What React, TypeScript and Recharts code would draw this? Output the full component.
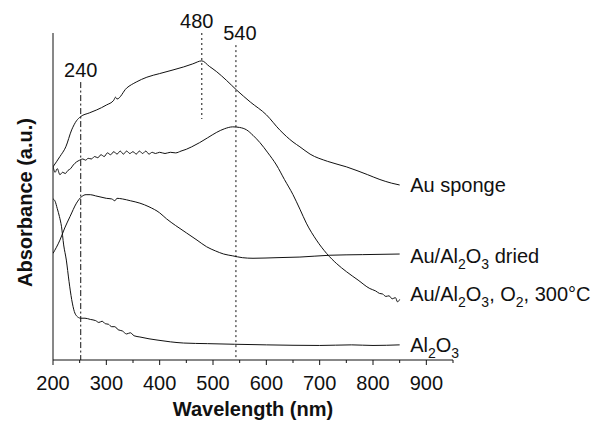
import { LineChart, Line, XAxis, YAxis, ReferenceLine, Label } from 'recharts';

// wavelength ticks (nm) — labels every 100, minor every 50
const xTicks = [200, 250, 300, 350, 400, 450, 500, 550, 600, 650, 700, 750, 800, 850, 900, 950];
const xLabelled = [200, 300, 400, 500, 600, 700, 800, 900];
const yTicks = [0, 1, 2, 3, 4, 5];

// Au sponge
const auSponge = [
  [200, 2.79], [213, 2.96], [224, 3.12], [235, 3.4], [244, 3.55], [252, 3.62], [268, 3.68],
  [282, 3.73], [300, 3.81], [314, 3.89], [317, 3.94], [320, 3.91], [338, 4.09], [356, 4.19],
  [376, 4.27], [400, 4.33], [425, 4.39], [445, 4.44], [462, 4.49], [479, 4.54], [493, 4.45],
  [507, 4.36], [525, 4.22], [544, 4.06], [570, 3.86], [600, 3.65], [625, 3.4], [650, 3.2],
  [663, 3.12], [682, 3.0], [715, 2.88], [750, 2.79], [790, 2.66], [813, 2.58], [835, 2.52], [850, 2.49],
];

// Au/Al2O3, O2, 300°C
const auCalcined = [
  [200, 2.8], [204, 2.7], [208, 2.76], [213, 2.66], [218, 2.7], [223, 2.68], [228, 2.73],
  [233, 2.76], [238, 2.82], [244, 2.87], [250, 2.9], [256, 2.92], [261, 2.9], [266, 2.93],
  [272, 2.92], [278, 2.96], [284, 2.94], [290, 2.99], [296, 2.96], [302, 3.02], [308, 2.99],
  [314, 3.04], [320, 3.0], [326, 3.05], [332, 3.0], [338, 3.05], [344, 3.01], [350, 3.04],
  [356, 3.0], [362, 3.05], [368, 3.01], [374, 3.05], [380, 3.0], [386, 3.03], [392, 3.01],
  [400, 3.03], [410, 3.01], [420, 3.03], [430, 3.02], [440, 3.05], [450, 3.08], [460, 3.12],
  [475, 3.19], [490, 3.27], [507, 3.36], [522, 3.42], [537, 3.45], [550, 3.44], [563, 3.4],
  [575, 3.31], [588, 3.19], [603, 3.02], [619, 2.82], [634, 2.58], [650, 2.33], [663, 2.09],
  [675, 1.86], [694, 1.58], [713, 1.36], [732, 1.19], [750, 1.06], [772, 0.92], [794, 0.78],
  [805, 0.74], [812, 0.7], [818, 0.69], [824, 0.65], [830, 0.66], [836, 0.61], [842, 0.63],
  [846, 0.56], [850, 0.6],
];

// Au/Al2O3 dried
const auDried = [
  [200, 1.36], [213, 1.58], [222, 1.78], [232, 1.97], [244, 2.19], [254, 2.3], [262, 2.33],
  [270, 2.33], [280, 2.31], [290, 2.29], [300, 2.27], [310, 2.26], [316, 2.23], [320, 2.27],
  [330, 2.26], [345, 2.23], [363, 2.19], [380, 2.13], [400, 2.03], [413, 1.93], [430, 1.82],
  [450, 1.7], [470, 1.58], [488, 1.47], [505, 1.4], [520, 1.35], [537, 1.32], [555, 1.29],
  [575, 1.28], [620, 1.29], [663, 1.3], [719, 1.33], [780, 1.34], [850, 1.35],
];

// Al2O3
const alumina = [
  [200, 2.26], [204, 2.22], [208, 2.1], [212, 1.97], [216, 1.8], [220, 1.5], [225, 1.25],
  [230, 0.9], [235, 0.6], [240, 0.4], [244, 0.33], [252, 0.29], [260, 0.29], [270, 0.27],
  [280, 0.25], [286, 0.22], [292, 0.24], [298, 0.2], [304, 0.19], [310, 0.15], [316, 0.15],
  [322, 0.1], [330, 0.08], [338, 0.03], [345, 0.05], [352, 0.0], [363, -0.02], [380, -0.05],
  [395, -0.07], [420, -0.1], [445, -0.12], [490, -0.13], [540, -0.14], [600, -0.15],
  [700, -0.16], [760, -0.15], [800, -0.16], [850, -0.15],
];

// series names, split into normal / subscript pieces
const names: [string, boolean][][] = [
  [['Au sponge', false]],
  [['Au/Al', false], ['2', true], ['O', false], ['3', true], [' dried', false]],
  [['Au/Al', false], ['2', true], ['O', false], ['3', true], [', O', false], ['2', true], [', 300°C', false]],
  [['Al', false], ['2', true], ['O', false], ['3', true]],
];
const seriesData = [auSponge, auDried, auCalcined, alumina];

const toPoints = (arr: number[][]) => arr.map(([x, y]) => ({ x, y }));

const INK = '#111';
const FONT = '"Liberation Sans", Arial, sans-serif';
const SUB_SHIFT = 6;
const labelDy = [7, 9, 2, 7];

const renderName = (parts: [string, boolean][]) => {
  let level = 0;
  return parts.map(([t, sub], k) => {
    const target = sub ? SUB_SHIFT : 0;
    const dy = target - level;
    level = target;
    return (
      <tspan key={k} dy={dy} fontSize={sub ? 14 : 20}>
        {t}
      </tspan>
    );
  });
};

const renderXTick = (props: any) => {
  const { x, y, payload } = props;
  const v = Number(payload && payload.value);
  const major = xLabelled.includes(v);
  return (
    <g key={`t-${v}`}>
      <line x1={x} x2={x} y1={y} y2={y + (major ? 5 : 3)} stroke={INK} />
      {major ? (
        <text x={x} y={y + 30} textAnchor="middle" style={{ fontSize: 20, fill: INK, fontFamily: FONT }}>
          {String(v)}
        </text>
      ) : null}
    </g>
  );
};

const endLabel = (i: number, count: number) => (props: any) => {
  if (props.index !== count - 1) return null;
  return (
    <text x={props.x + 10.5} y={props.y + labelDy[i]} fontSize={20} fill={INK} fontFamily={FONT}>
      {renderName(names[i])}
    </text>
  );
};

const refLabel = (text: string, dx: number) => (props: any) => {
  const vb = props.viewBox;
  return (
    <text x={vb.x + dx} y={vb.y - 5} textAnchor="middle" fontSize={20} fill={INK} fontFamily={FONT}>
      {text}
    </text>
  );
};

const App = () => {
  return (
    <div style={{ position: 'absolute', left: 0, top: 0, width: 599, height: 423, background: '#fff' }}>
      <LineChart width={599} height={423} margin={{ top: 33, right: 146, bottom: 0, left: 0 }}>
        <XAxis
          type="number"
          dataKey="x"
          domain={[200, 950]}
          ticks={xTicks}
          interval={0}
          allowDataOverflow
          height={63}
          stroke={INK}
          tickLine={false}
          tickSize={0}
          tickMargin={0}
          tick={renderXTick}
        >
          <Label
            value="Wavelength (nm)"
            position="insideBottom"
            offset={7}
            style={{ fontSize: 20, fontWeight: 'bold', fill: INK, fontFamily: FONT }}
          />
        </XAxis>
        <YAxis
          type="number"
          domain={[-0.4, 5]}
          ticks={yTicks}
          allowDataOverflow
          width={53}
          stroke={INK}
          tickSize={5}
          tick={false}
        >
          <Label
            content={(props: any) => {
              const vb = props.viewBox;
              const cx = 32;
              const cy = vb.y + vb.height / 2 + 6;
              return (
                <text
                  x={cx}
                  y={cy}
                  transform={`rotate(-90, ${cx}, ${cy})`}
                  textAnchor="middle"
                  fontSize={20}
                  fontWeight="bold"
                  fill={INK}
                  fontFamily={FONT}
                >
                  Absorbance (a.u.)
                </text>
              );
            }}
          />
        </YAxis>

        {/* marker lines */}
        <ReferenceLine
          segment={[{ x: 252, y: 4.19 }, { x: 252, y: -0.4 }]}
          stroke={INK}
          strokeDasharray="6 2.5 2 2.5"
          label={refLabel('240', 0)}
        />
        <ReferenceLine
          segment={[{ x: 479, y: 5 }, { x: 479, y: 3.58 }]}
          stroke={INK}
          strokeDasharray="2 3"
          label={refLabel('480', -5)}
        />
        <ReferenceLine
          segment={[{ x: 543, y: 4.8 }, { x: 543, y: -0.4 }]}
          stroke={INK}
          strokeDasharray="2 3"
          label={refLabel('540', 4)}
        />

        {seriesData.map((arr, i) => (
          <Line
            key={i}
            data={toPoints(arr)}
            dataKey="y"
            type="monotone"
            stroke={INK}
            strokeWidth={1}
            dot={false}
            activeDot={false}
            isAnimationActive={false}
            label={endLabel(i, arr.length)}
          />
        ))}
      </LineChart>
    </div>
  );
};

export default App;
